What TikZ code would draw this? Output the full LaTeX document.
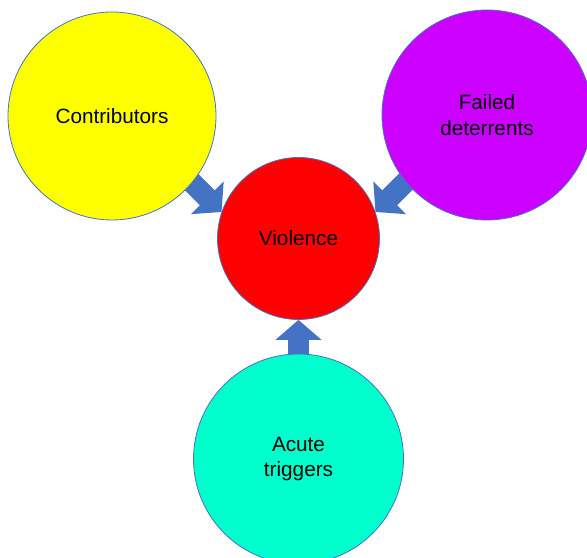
\documentclass[tikz,border=0pt]{standalone}
\usepackage{fontspec}
\setmainfont{Liberation Sans}
\usepackage{color}
\definecolor{arrowblue}{RGB}{68,114,196}
\definecolor{lemon}{RGB}{255,255,0}
\definecolor{deterpurple}{RGB}{204,0,255}
\definecolor{violred}{RGB}{255,0,0}
\definecolor{trigcyan}{RGB}{0,255,204}
\usepackage{tikz}
\usetikzlibrary{arrows.meta,backgrounds}

\begin{document}
\begin{tikzpicture}[
    x=1bp, y=1bp,
    blob/.style={circle, draw=arrowblue, line width=0.8bp, inner sep=0pt, align=center,
                 font=\fontsize{20.8}{26}\selectfont},
    push/.style={draw=arrowblue, line width=21bp, -{Triangle[width=45bp,length=20bp]}},
]
\useasboundingbox (0,0) rectangle (587,558);
\clip (0,0) rectangle (587,558);
\node[blob, fill=lemon, minimum size=208bp] (contrib) at (112,442) {Contributors};
\node[blob, fill=deterpurple, minimum size=210bp] (deter) at (487,443) {Failed\\deterrents};
\node[blob, fill=violred, minimum size=162bp] (viol) at (298.5,319.5) {Violence};
\node[blob, fill=trigcyan, minimum size=210bp] (trig) at (298.5,99) {Acute\\triggers};
% arrows go under the circles
\path (viol.161) ++(135:62) coordinate (contrib-start);
\path (viol.19) ++(45:62) coordinate (deter-start);
\begin{scope}[on background layer]
\draw[push] (contrib-start) -- (viol.161);
\draw[push] (deter-start) -- (viol.19);
\draw[push] (trig.center) -- (viol.south);
\end{scope}
\end{tikzpicture}
\end{document}
